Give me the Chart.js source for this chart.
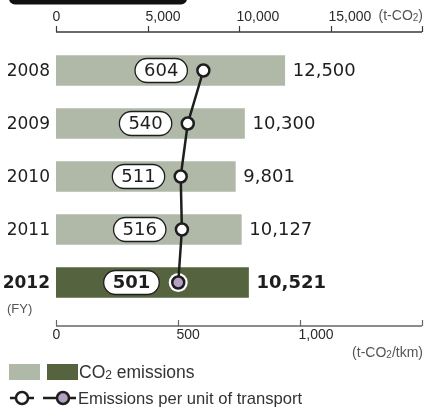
<!DOCTYPE html>
<html>
<head>
<meta charset="utf-8">
<script src="https://cdn.jsdelivr.net/npm/chart.js@4"></script>
<style>
  html, body { margin: 0; padding: 0; background: #fff; }
  canvas { display: block; }
</style>
</head>
<body>
<canvas id="c" width="424" height="408"></canvas>
<script>
// Fiscal years and their values
const years = ['2008', '2009', '2010', '2011', '2012'];
const emissions = [12500, 10300, 9801, 10127, 10521];     // t-CO2
const perUnit = [604, 540, 511, 516, 501];                 // t-CO2/tkm
const emissionTicks = [0, 5000, 10000, 15000, 20000];
const emissionTickLabels = ['0', '5,000', '10,000', '15,000', ''];
const unitTicks = [0, 500, 1000, 1500];
const unitTickLabels = ['0', '500', '1,000', ''];
const latestIndex = 4;

const LIGHT = '#b0b9a7';
const DARK = '#55633f';
const PURPLE = '#b4a1c2';
const INK = '#1e1e1e';
const NUM_FONT = '"DejaVu Sans", sans-serif';
const TXT_FONT = '"Liberation Sans", Arial, sans-serif';

function fmt(v) { return v.toLocaleString('en-US'); }

// Text with a subscript "2" after "CO"
function subText(ctx, parts, x, y, size, align) {
  let total = 0;
  const widths = parts.map(([t, sub]) => {
    ctx.font = (sub ? Math.round(size * 0.7) : size) + 'px ' + TXT_FONT;
    const w = ctx.measureText(t).width;
    total += w;
    return w;
  });
  let cx = align === 'right' ? x - total : x;
  ctx.textAlign = 'left';
  ctx.textBaseline = 'alphabetic';
  parts.forEach(([t, sub], i) => {
    ctx.font = (sub ? Math.round(size * 0.7) : size) + 'px ' + TXT_FONT;
    ctx.fillText(t, cx, y + (sub ? size * 0.08 : 0));
    cx += widths[i];
  });
}

function roundRect(ctx, x, y, w, h, r) {
  ctx.beginPath();
  ctx.moveTo(x + r, y);
  ctx.lineTo(x + w - r, y);
  ctx.arc(x + w - r, y + r, r, -Math.PI / 2, 0);
  ctx.lineTo(x + w, y + h - r);
  ctx.arc(x + w - r, y + h - r, r, 0, Math.PI / 2);
  ctx.lineTo(x + r, y + h);
  ctx.arc(x + r, y + h - r, r, Math.PI / 2, Math.PI);
  ctx.lineTo(x, y + r);
  ctx.arc(x + r, y + r, r, Math.PI, Math.PI * 1.5);
  ctx.closePath();
}

const decor = {
  id: 'decor',
  afterDraw(chart) {
    const ctx = chart.ctx;
    const sx = chart.scales.x, sx2 = chart.scales.x2, sy = chart.scales.y;
    ctx.save();

    // heading tab at the top edge
    ctx.fillStyle = '#111';
    roundRect(ctx, 9, -20, 178, 24.5, 6);
    ctx.fill();

    // top axis (CO2 emissions)
    const topY = 32;
    ctx.strokeStyle = '#3a3a3a';
    ctx.lineWidth = 1.6;
    ctx.beginPath();
    ctx.moveTo(sx.getPixelForValue(emissionTicks[0]), topY);
    ctx.lineTo(sx.getPixelForValue(emissionTicks[emissionTicks.length - 1]), topY);
    ctx.stroke();
    ctx.lineWidth = 1.2;
    emissionTicks.forEach((t, i) => {
      const px = Math.round(sx.getPixelForValue(t)) + 0.5;
      ctx.beginPath();
      ctx.moveTo(px, topY - 6);
      ctx.lineTo(px, topY);
      ctx.stroke();
      const lab = emissionTickLabels[i];
      if (!lab) return;
      ctx.fillStyle = '#2a2a2a';
      ctx.font = '14px ' + TXT_FONT;
      ctx.textBaseline = 'middle';
      if (t === 0) { ctx.textAlign = 'center'; ctx.fillText(lab, px, 17); }
      else { ctx.textAlign = 'left'; ctx.fillText(lab, px - 3, 17); }
    });
    ctx.fillStyle = '#555';
    subText(ctx, [['(t-CO', false], ['2', true], [')', false]], 423, 20, 14, 'right');

    // bottom axis (per unit of transport)
    const botY = 326;
    ctx.strokeStyle = '#666';
    ctx.lineWidth = 1.5;
    ctx.beginPath();
    ctx.moveTo(sx2.getPixelForValue(unitTicks[0]), botY);
    ctx.lineTo(sx2.getPixelForValue(unitTicks[unitTicks.length - 1]), botY);
    ctx.stroke();
    ctx.lineWidth = 1.2;
    unitTicks.forEach((t, i) => {
      const px = Math.round(sx2.getPixelForValue(t)) + 0.5;
      ctx.beginPath();
      ctx.moveTo(px, botY - 6);
      ctx.lineTo(px, botY);
      ctx.stroke();
      const lab = unitTickLabels[i];
      if (!lab) return;
      ctx.fillStyle = '#2a2a2a';
      ctx.font = '14px ' + TXT_FONT;
      ctx.textBaseline = 'middle';
      if (t === 0) { ctx.textAlign = 'center'; ctx.fillText(lab, px, 335); }
      else { ctx.textAlign = 'left'; ctx.fillText(lab, px - 2, 335); }
    });
    ctx.fillStyle = '#555';
    subText(ctx, [['(t-CO', false], ['2', true], ['/tkm)', false]], 423, 357, 14, 'right');

    // (FY)
    ctx.fillStyle = '#555';
    ctx.font = '13px ' + TXT_FONT;
    ctx.textAlign = 'left';
    ctx.textBaseline = 'middle';
    ctx.fillText('(FY)', 7, 309);

    const barMeta = chart.getDatasetMeta(0);
    const lineMeta = chart.getDatasetMeta(2);
    years.forEach((yr, i) => {
      const bold = i === latestIndex;
      const cy = sy.getPixelForValue(i);
      // year label
      ctx.fillStyle = INK;
      ctx.font = (bold ? 'bold ' : '') + '17px ' + NUM_FONT;
      ctx.textAlign = 'right';
      ctx.textBaseline = 'middle';
      ctx.fillText(yr, 50, cy + 1);
      // emission value at bar end
      const bar = barMeta.data[i];
      ctx.font = (bold ? 'bold ' : '') + '18px ' + NUM_FONT;
      ctx.textAlign = 'left';
      ctx.fillText(fmt(emissions[i]), bar.x + 8, cy + 1);
      // pill with per-unit value
      const pt = lineMeta.data[i];
      ctx.font = (bold ? 'bold ' : '') + '18px ' + NUM_FONT;
      const txt = String(perUnit[i]);
      const tw = ctx.measureText(txt).width;
      const pw = tw + 18, ph = 24;
      const right = pt.x - (bold ? 19 : 16);
      const left = right - pw;
      roundRect(ctx, left, pt.y - ph / 2, pw, ph, ph / 2);
      ctx.fillStyle = '#fff';
      ctx.fill();
      ctx.strokeStyle = INK;
      ctx.lineWidth = 1.3;
      ctx.stroke();
      ctx.fillStyle = INK;
      ctx.textAlign = 'center';
      ctx.fillText(txt, left + pw / 2, pt.y + 1);
    });

    // legend: bars
    ctx.fillStyle = LIGHT;
    ctx.fillRect(9, 364, 31, 16);
    ctx.fillStyle = DARK;
    ctx.fillRect(47, 364, 31, 16);
    ctx.fillStyle = '#333';
    subText(ctx, [['CO', false], ['2', true], [' emissions', false]], 79, 378, 17.5, 'left');

    // legend: line markers
    const ly = 398;
    ctx.strokeStyle = INK;
    ctx.lineWidth = 2.5;
    [[10, 34, 22, '#fff'], [43, 76, 63, PURPLE]].forEach(([a, b, c, fill]) => {
      ctx.beginPath();
      ctx.moveTo(a, ly);
      ctx.lineTo(b, ly);
      ctx.stroke();
      ctx.beginPath();
      ctx.arc(c, ly, 6, 0, Math.PI * 2);
      ctx.fillStyle = fill;
      ctx.fill();
      ctx.stroke();
    });
    ctx.fillStyle = '#333';
    ctx.font = '16.6px ' + TXT_FONT;
    ctx.textAlign = 'left';
    ctx.textBaseline = 'alphabetic';
    ctx.fillText('Emissions per unit of transport', 78, 404);

    ctx.restore();
  }
};

new Chart(document.getElementById('c').getContext('2d'), {
  data: {
    labels: years,
    datasets: [
      {
        type: 'bar',
        data: emissions,
        xAxisID: 'x',
        yAxisID: 'y',
        backgroundColor: years.map((_, i) => i === latestIndex ? DARK : LIGHT),
        barThickness: 30,
        order: 3
      },
      {
        // white halo behind the latest marker
        type: 'line',
        data: perUnit.map((v, i) => i === latestIndex ? v : null),
        xAxisID: 'x2',
        yAxisID: 'y',
        showLine: false,
        pointRadius: 9.5,
        pointBackgroundColor: '#fff',
        pointBorderWidth: 0,
        order: 2
      },
      {
        type: 'line',
        data: perUnit,
        xAxisID: 'x2',
        yAxisID: 'y',
        borderColor: INK,
        borderWidth: 2.5,
        tension: 0,
        pointRadius: 6,
        pointBorderWidth: 2.5,
        pointBorderColor: INK,
        pointBackgroundColor: perUnit.map((_, i) => i === latestIndex ? PURPLE : '#fff'),
        order: 1
      }
    ]
  },
  options: {
    indexAxis: 'y',
    responsive: false,
    animation: false,
    layout: { autoPadding: false, padding: { left: 56, right: 2, top: 44, bottom: 99 } },
    plugins: { legend: { display: false }, tooltip: { enabled: false } },
    scales: {
      x: { type: 'linear', min: 0, max: 20000, display: false },
      x2: { type: 'linear', min: 0, max: 1500, display: false },
      y: { type: 'category', display: false, offset: true }
    }
  },
  plugins: [decor]
});
</script>
</body>
</html>
